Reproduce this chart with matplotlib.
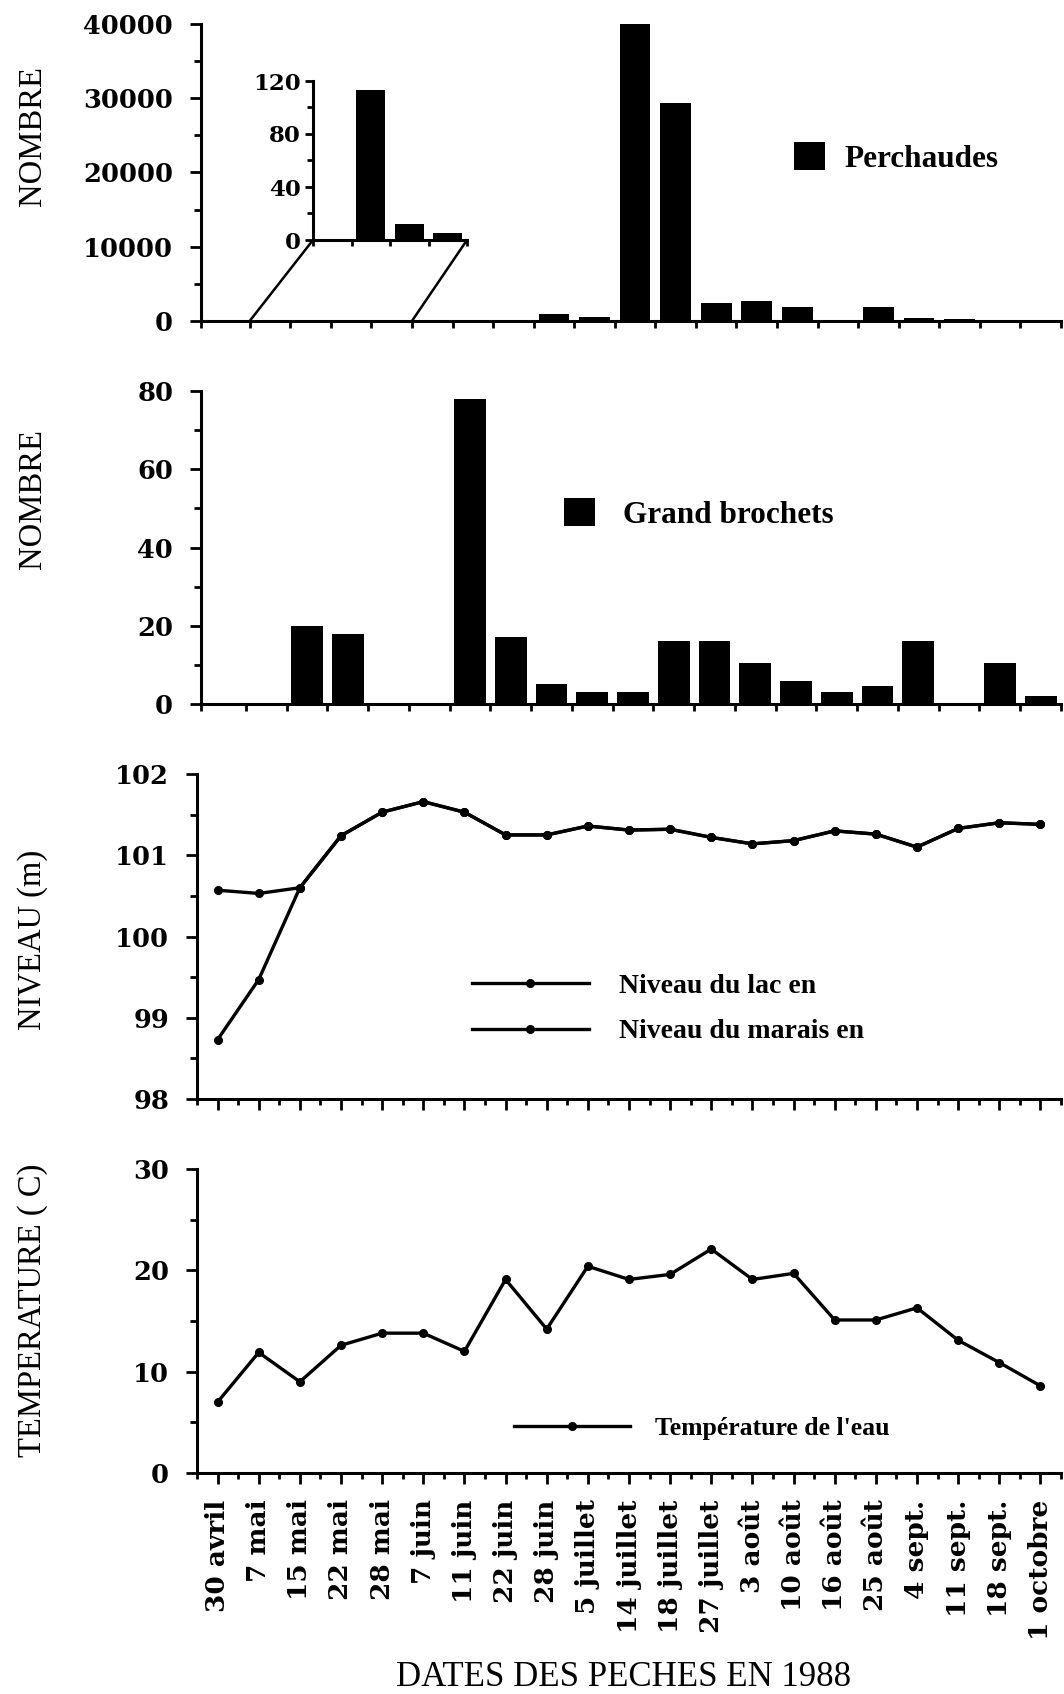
import numpy as np
import matplotlib
matplotlib.use("Agg")
import matplotlib.pyplot as plt
from matplotlib.patches import ConnectionPatch
from matplotlib.ticker import MultipleLocator

# Dates des peches en 1988
dates = ["30 avril", "7 mai", "15 mai", "22 mai", "28 mai", "7 juin", "11 juin",
         "22 juin", "28 juin", "5 juillet", "14 juillet", "18 juillet", "27 juillet",
         "3 août", "10 août", "16 août", "25 août", "4 sept.", "11 sept.",
         "18 sept.", "1 octobre"]

perchaudes = [0, 0, 113, 12, 5, 0, 0, 0, 900, 500, 40000, 29300, 2400, 2700,
              1900, 0, 1900, 350, 300, 50, 0]
# semaines agrandies dans l'encart (7 mai - 28 mai)
encart_idx = [1, 2, 3, 4]

brochets = [0, 0, 20, 18, 0, 0, 78, 17, 5, 3, 3, 16, 16, 10.5, 6, 3, 4.5, 16,
            0, 10.5, 2]

niveau_lac = [100.57, 100.53, 100.6, 101.24, 101.53, 101.66, 101.53, 101.25,
              101.25, 101.36, 101.31, 101.32, 101.22, 101.14, 101.18, 101.3,
              101.26, 101.1, 101.33, 101.4, 101.38]
niveau_marais = [98.73, 99.47, 100.6, 101.24, 101.53, 101.66, 101.53, 101.25,
                 101.25, 101.36, 101.31, 101.32, 101.22, 101.14, 101.18, 101.3,
                 101.26, 101.1, 101.33, 101.4, 101.38]

temperature = [7.0, 11.9, 9.0, 12.6, 13.8, 13.8, 12.0, 19.1, 14.2, 20.4, 19.1,
               19.6, 22.1, 19.1, 19.7, 15.1, 15.1, 16.3, 13.1, 10.9, 8.6]

plt.rcParams["font.family"] = "DejaVu Serif"
plt.rcParams["font.weight"] = "bold"
plt.rcParams["font.size"] = 18.5

W, H = 1064.0, 1694.0


def rect(left, right, top, bottom):
    return [left / W, 1 - bottom / H, (right - left) / W, (bottom - top) / H]


def style_axes(ax, xlim=(-0.5, 20.5)):
    for s in ("top", "right"):
        ax.spines[s].set_visible(False)
    for s in ("left", "bottom"):
        ax.spines[s].set_linewidth(2.2)
    ax.tick_params(axis="y", which="major", direction="out", length=8, width=2, pad=12)
    ax.tick_params(axis="y", which="minor", direction="out", length=5, width=2)
    ax.set_xlim(*xlim)


def bar_ticks(ax):
    # traits aux limites des categories
    left = ax.get_xlim()[0]
    ax.set_xticks([left] + list(np.arange(0.5, 21, 1)))
    ax.tick_params(axis="x", direction="out", length=5, width=2, labelbottom=False)


fig = plt.figure(figsize=(10.64, 16.94), dpi=100)
ax1 = fig.add_axes(rect(201, 1061, 24, 321))
ax2 = fig.add_axes(rect(201, 1061, 391, 704))
ax3 = fig.add_axes(rect(197, 1061, 774, 1099))
ax4 = fig.add_axes(rect(197, 1061, 1169, 1473))
axin = fig.add_axes(rect(313, 467, 81, 240))

x = np.arange(len(dates))
label_font = dict(family="Liberation Serif", size=23.5, weight="normal")
key_font = dict(family="Liberation Serif", size=22.5, weight="bold")

# --- perchaudes ---
style_axes(ax1, (-0.7, 20.5))
b1 = ax1.bar(x, perchaudes, width=0.76, color="black", clip_on=False)
ax1.set_ylim(0, 40000)
ax1.yaxis.set_major_locator(MultipleLocator(10000))
ax1.yaxis.set_minor_locator(MultipleLocator(5000))
bar_ticks(ax1)
ax1.legend([b1], ["Perchaudes"], loc="center left",
           bbox_to_anchor=(794 / W, 1 - 158 / H), bbox_transform=fig.transFigure,
           frameon=False, prop=key_font, handlelength=1.0, handleheight=1.0,
           handletextpad=0.6, borderpad=0, borderaxespad=0)

# encart 0-120
style_axes(axin)
axin.patch.set_visible(False)
xin = np.arange(1, len(encart_idx) + 1)
axin.bar(xin, [perchaudes[i] for i in encart_idx], width=0.76, color="black")
axin.set_xlim(0.5, 4.5)
axin.set_ylim(0, 120)
axin.yaxis.set_major_locator(MultipleLocator(40))
axin.yaxis.set_minor_locator(MultipleLocator(20))
axin.set_xticks(np.arange(0.5, 5, 1))
axin.tick_params(axis="x", direction="out", length=4, width=2, labelbottom=False)
axin.tick_params(axis="y", which="major", length=6, labelsize=16.5, pad=3)
axin.tick_params(axis="y", which="minor", length=4)
for xb in (0.5, 4.5):
    con = ConnectionPatch(xyA=(xb, 0), coordsA=ax1.transData,
                          xyB=(xb, 0), coordsB=axin.transData,
                          color="black", lw=1.8)
    fig.add_artist(con)

# --- grand brochets ---
style_axes(ax2, (-0.6, 20.45))
b2 = ax2.bar(x, brochets, width=0.78, color="black")
ax2.set_ylim(0, 80)
ax2.yaxis.set_major_locator(MultipleLocator(20))
ax2.yaxis.set_minor_locator(MultipleLocator(10))
bar_ticks(ax2)
ax2.legend([b2], ["Grand brochets"], loc="center left",
           bbox_to_anchor=(564 / W, 1 - 514 / H), bbox_transform=fig.transFigure,
           frameon=False, prop=key_font, handlelength=1.0, handleheight=1.0,
           handletextpad=0.9, borderpad=0, borderaxespad=0)

# --- niveaux ---
style_axes(ax3)
l1, = ax3.plot(x, niveau_lac, "-o", color="black", lw=2.4, ms=5.5)
l2, = ax3.plot(x, niveau_marais, "-o", color="black", lw=2.4, ms=5.5)
ax3.set_ylim(98, 102)
ax3.yaxis.set_major_locator(MultipleLocator(1))
ax3.yaxis.set_minor_locator(MultipleLocator(0.5))
ax3.set_xticks(x)
ax3.set_xticks(np.arange(-0.5, 21, 1), minor=True)
ax3.tick_params(axis="x", which="major", direction="out", length=8, width=2, labelbottom=False)
ax3.tick_params(axis="x", which="minor", direction="out", length=4, width=2)
ax3.legend([l1, l2], ["Niveau du lac en", "Niveau du marais en"], loc="center left",
           bbox_to_anchor=(472 / W, 1 - 1009 / H), bbox_transform=fig.transFigure,
           frameon=False, prop=dict(family="Liberation Serif", size=20, weight="bold"),
           handlelength=4.2, handletextpad=1.08, labelspacing=0.72, numpoints=1,
           borderpad=0, borderaxespad=0)

# --- temperature ---
style_axes(ax4)
l3, = ax4.plot(x, temperature, "-o", color="black", lw=2.4, ms=5.5)
ax4.set_ylim(0, 30)
ax4.yaxis.set_major_locator(MultipleLocator(10))
ax4.yaxis.set_minor_locator(MultipleLocator(5))
ax4.set_xticks(x, dates, rotation=90, fontsize=19)
ax4.set_xticks(np.arange(-0.5, 21, 1), minor=True)
ax4.tick_params(axis="x", which="major", direction="out", length=8, width=2, pad=11)
ax4.tick_params(axis="x", which="minor", direction="out", length=4, width=2)
ax4.legend([l3], ["Température de l'eau"], loc="center left",
           bbox_to_anchor=(514 / W, 1 - 1428 / H), bbox_transform=fig.transFigure,
           frameon=False, prop=dict(family="Liberation Serif", size=18.5, weight="bold"),
           handlelength=4.5, handletextpad=0.97, numpoints=1,
           borderpad=0, borderaxespad=0)

# titres des axes
fig.text(33 / W, 1 - 136 / H, "NOMBRE", rotation=90, ha="center", va="center", **label_font)
fig.text(33 / W, 1 - 499 / H, "NOMBRE", rotation=90, ha="center", va="center", **label_font)
fig.text(33 / W, 1 - 940 / H, "NIVEAU (m)", rotation=90, ha="center", va="center", **label_font)
fig.text(33 / W, 1 - 1310 / H, "TEMPERATURE ( C)", rotation=90, ha="center", va="center", **label_font)
fig.text(624 / W, 1 - 1677 / H, "DATES DES PECHES EN 1988", ha="center", va="center",
         family="Liberation Serif", size=25, weight="normal")

fig.savefig("out.png", dpi=100)
